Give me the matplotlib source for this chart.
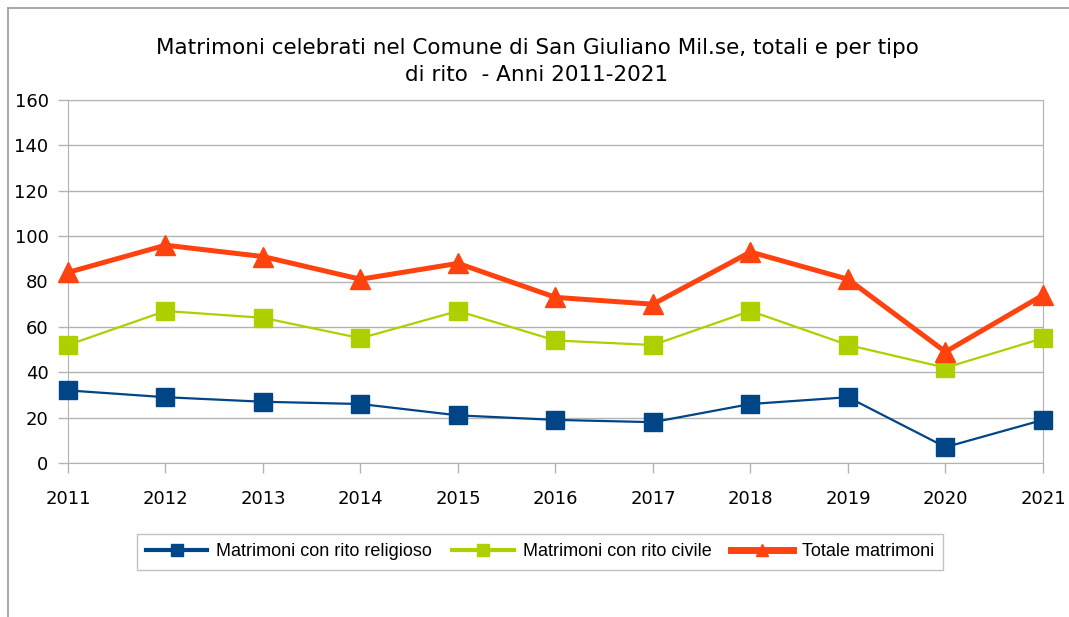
import matplotlib.pyplot as plt
from matplotlib.lines import Line2D

# =============================
# Data
# =============================
anni = [2011, 2012, 2013, 2014, 2015, 2016, 2017, 2018, 2019, 2020, 2021]
religioso = [32, 29, 27, 26, 21, 19, 18, 26, 29, 7, 19]
civile = [52, 67, 64, 55, 67, 54, 52, 67, 52, 42, 55]
totale = [84, 96, 91, 81, 88, 73, 70, 93, 81, 49, 74]
etichette = ["Matrimoni con rito religioso", "Matrimoni con rito civile", "Totale matrimoni"]

grid_col = "#b3b3b3"
c_rel, c_civ, c_tot = "#004586", "#aecf00", "#ff420e"

fig = plt.figure(figsize=(10.69, 6.17), dpi=100)
ax = fig.add_axes([68 / 1069, 1 - 463 / 617, (1043 - 68) / 1069, (463 - 100) / 617])

ax.plot(anni, religioso, color=c_rel, lw=1.6, marker="s", ms=12.5,
        clip_on=False, zorder=3)
ax.plot(anni, civile, color=c_civ, lw=1.6, marker="s", ms=12.5,
        clip_on=False, zorder=3)
ax.plot(anni, totale, color=c_tot, lw=3.6, marker="^", ms=14,
        clip_on=False, zorder=4)

ax.set_xlim(2011, 2021)
ax.set_ylim(0, 160)
ax.set_xticks(anni)
ax.set_yticks(range(0, 161, 20))
ax.yaxis.grid(True, color=grid_col, lw=1)
ax.set_axisbelow(True)
for s in ax.spines.values():
    s.set_color(grid_col)
ax.tick_params(axis="both", colors=grid_col, labelcolor="black", labelsize=13,
               length=7.5, width=1)
ax.tick_params(axis="x", pad=12)
ax.tick_params(axis="y", pad=6.5)

fig.suptitle("Matrimoni celebrati nel Comune di San Giuliano Mil.se, totali e per tipo\n"
             "di rito  - Anni 2011-2021", x=537 / 1069, y=1 - 38 / 617,
             fontsize=15.5, va="top", linespacing=1.45)

# legend handles (thicker lines, smaller markers like the original)
handles = [
    Line2D([], [], color=c_rel, lw=3, marker="s", ms=8),
    Line2D([], [], color=c_civ, lw=3, marker="s", ms=8),
    Line2D([], [], color=c_tot, lw=5, marker="^", ms=8),
]
leg = fig.legend(handles, etichette, loc="center",
                 bbox_to_anchor=(540 / 1069, 1 - 552 / 617), ncol=3,
                 frameon=True, fancybox=False, edgecolor=grid_col,
                 prop={"family": "Liberation Sans", "size": 13},
                 handlelength=3.4, columnspacing=1.1, borderpad=0.5,
                 handletextpad=0.5)
leg.get_frame().set_linewidth(1)

# outer chart border (top and left only visible)
fig.add_artist(Line2D([8 / 1069, 8 / 1069], [0, 1 - 8 / 617], color="#999999", lw=1.2))
fig.add_artist(Line2D([8 / 1069, 1], [1 - 8 / 617, 1 - 8 / 617], color="#999999", lw=1.2))

fig.savefig("out.png", dpi=100)
